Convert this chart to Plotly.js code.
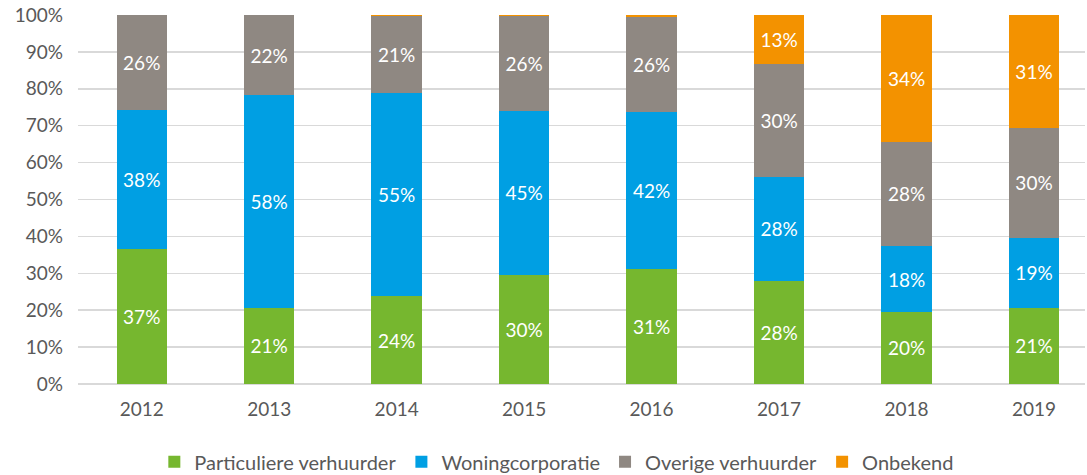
<!DOCTYPE html>
<html>
<head>
<meta charset="utf-8">
<script src="https://cdn.plot.ly/plotly-3.0.1.min.js"></script>
<style>html,body{margin:0;padding:0;background:#fff;}#chart{width:1087px;height:475px;}</style>
</head>
<body>
<div id="chart"></div>
<script>
const years = ['2012','2013','2014','2015','2016','2017','2018','2019'];
const particuliere = [36.6, 20.6, 23.8, 29.5, 31.3, 27.9, 19.6, 20.6];
const woningcorporatie = [37.7, 57.7, 55.1, 44.6, 42.4, 28.3, 17.7, 19.0];
const overige = [25.7, 21.7, 20.7, 25.5, 25.8, 30.4, 28.4, 29.8];
const onbekend = [0, 0, 0.4, 0.4, 0.5, 13.4, 34.3, 30.6];
const seriesNames = ['Particuliere verhuurder', 'Woningcorporatie', 'Overige verhuurder', 'Onbekend'];
const yTicks = [0,10,20,30,40,50,60,70,80,90,100];
const yTickText = yTicks.map(v => v + '%');

const colors = ['#76B72F', '#009FE3', '#8F8882', '#F39200'];
const allSeries = [particuliere, woningcorporatie, overige, onbekend];

const FONT = 'Lato, "Open Sans", sans-serif';
const traces = allSeries.map((vals, i) => ({
  type: 'bar',
  name: seriesNames[i],
  x: years,
  y: vals,
  marker: {color: colors[i], line: {width: 0}},
  texttemplate: '%{y:.0f}%',
  textposition: 'inside',
  insidetextanchor: 'middle',
  textangle: 0,
  textfont: {family: FONT, size: 19, color: '#ffffff'},
  hoverinfo: 'skip'
}));

const layout = {
  width: 1087,
  height: 475,
  barmode: 'stack',
  bargap: 0.604,
  margin: {l: 77.5, r: 2, t: 15, b: 91, autoexpand: false},
  paper_bgcolor: '#ffffff',
  plot_bgcolor: '#ffffff',
  font: {family: FONT, size: 18, color: '#595959'},
  uniformtext: {mode: 'hide', minsize: 14},
  xaxis: {
    type: 'category',
    range: [-0.5, 7.4],
    showgrid: false,
    showline: false,
    zeroline: false,
    ticks: '',
    tickfont: {family: FONT, size: 19, color: '#595959'},
    ticklabelstandoff: 12,
    fixedrange: true
  },
  yaxis: {
    range: [0, 100],
    tickvals: yTicks,
    ticktext: yTickText,
    showgrid: true,
    gridcolor: '#D9D9D9',
    gridwidth: 1.5,
    zeroline: true,
    zerolinecolor: '#D9D9D9',
    zerolinewidth: 1.5,
    showline: false,
    ticks: '',
    tickfont: {family: FONT, size: 19, color: '#595959'},
    ticklabelstandoff: 14,
    fixedrange: true
  },
  showlegend: true,
  legend: {
    orientation: 'h',
    x: 0.4755,
    xanchor: 'center',
    y: -0.211,
    yanchor: 'middle',
    traceorder: 'normal',
    font: {family: FONT, size: 20, color: '#595959'},
    itemwidth: 30,
    itemclick: false,
    itemdoubleclick: false
  }
};

Plotly.newPlot('chart', traces, layout, {displayModeBar: false, staticPlot: true});
</script>
</body>
</html>
